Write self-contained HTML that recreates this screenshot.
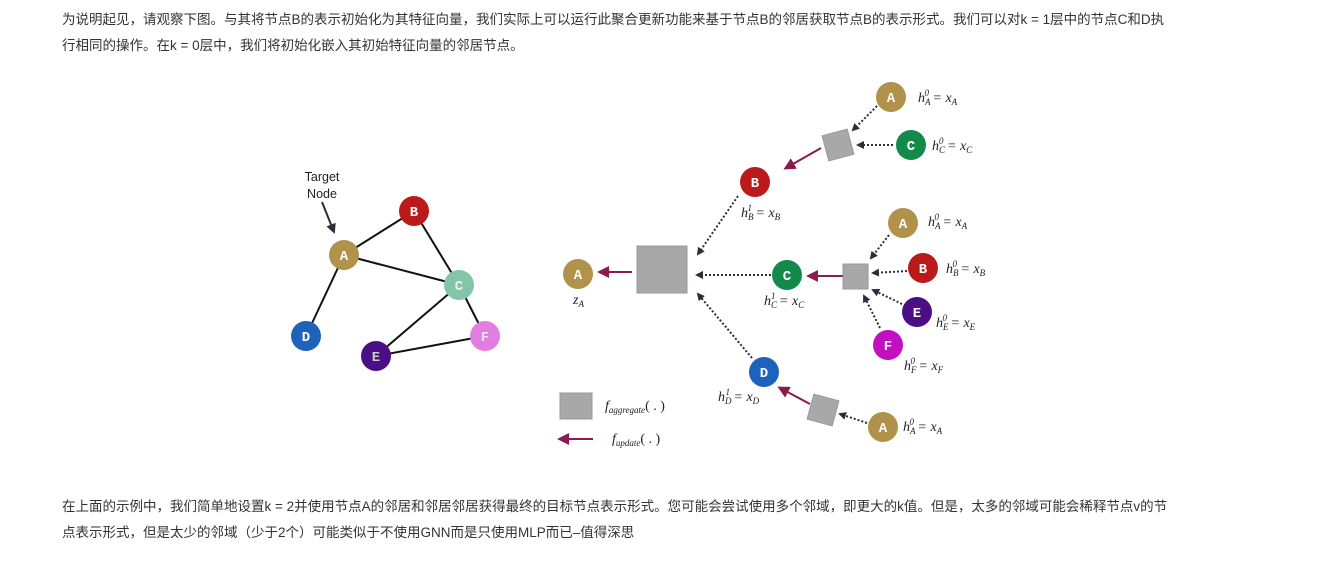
<!DOCTYPE html>
<html><head><meta charset="utf-8"><style>
body{margin:0;width:1341px;height:566px;background:#fff;position:relative;overflow:hidden;font-family:"Liberation Sans","Noto Sans CJK SC",sans-serif;color:#333}
.t{position:absolute;left:62px;font-size:13.5px;white-space:nowrap;line-height:26px}
svg{position:absolute;left:0;top:0}
</style></head><body>
<div class="t" style="top:7px">为说明起见，请观察下图。与其将节点B的表示初始化为其特征向量，我们实际上可以运行此聚合更新功能来基于节点B的邻居获取节点B的表示形式。我们可以对k = 1层中的节点C和D执<br>行相同的操作。在k = 0层中，我们将初始化嵌入其初始特征向量的邻居节点。</div>
<div class="t" style="top:494px">在上面的示例中，我们简单地设置k = 2并使用节点A的邻居和邻居邻居获得最终的目标节点表示形式。您可能会尝试使用多个邻域，即更大的k值。但是，太多的邻域可能会稀释节点v的节<br>点表示形式，但是太少的邻域（少于2个）可能类似于不使用GNN而是只使用MLP而已–值得深思</div>
<svg width="1341" height="566" viewBox="0 0 1341 566">
<defs>
<marker id="d" markerWidth="8" markerHeight="8" refX="6" refY="4" orient="auto" markerUnits="userSpaceOnUse"><path d="M0,0 L8,4 L0,8 z" fill="#2b2f3a"/></marker>
<marker id="m" markerWidth="12" markerHeight="12" refX="9" refY="6" orient="auto" markerUnits="userSpaceOnUse"><path d="M0,0 L12,6 L0,12 z" fill="#8b1a4f"/></marker>
<marker id="k" markerWidth="10" markerHeight="10" refX="8" refY="5" orient="auto" markerUnits="userSpaceOnUse"><path d="M0,0 L10,5 L0,10 z" fill="#2b2f3a"/></marker>
</defs>
<g stroke="#111" stroke-width="2">
<line x1="344" y1="255" x2="414" y2="211"/><line x1="344" y1="255" x2="459" y2="285"/><line x1="414" y1="211" x2="459" y2="285"/>
<line x1="344" y1="255" x2="306" y2="336"/><line x1="459" y1="285" x2="376" y2="356"/><line x1="459" y1="285" x2="485" y2="336"/><line x1="376" y1="356" x2="485" y2="336"/>
</g>
<line x1="322" y1="202" x2="334" y2="232" stroke="#2b2f3a" stroke-width="2" marker-end="url(#k)"/>
<text x="322" y="181" font-size="12.5" text-anchor="middle" fill="#222" font-family="Liberation Sans,sans-serif">Target</text>
<text x="322" y="198" font-size="12.5" text-anchor="middle" fill="#222" font-family="Liberation Sans,sans-serif">Node</text>
<g font-family="Liberation Mono,monospace" font-weight="bold" font-size="14" text-anchor="middle" fill="#fff">
<circle cx="344" cy="255" r="15" fill="#b0924a"/><text x="344" y="260">A</text>
<circle cx="414" cy="211" r="15" fill="#bb1a1a"/><text x="414" y="216">B</text>
<circle cx="459" cy="285" r="15" fill="#82c6a7"/><text x="459" y="290" fill="#e8f5ee">C</text>
<circle cx="306" cy="336" r="15" fill="#1d63bb"/><text x="306" y="341">D</text>
<circle cx="376" cy="356" r="15" fill="#4b0e85"/><text x="376" y="361" fill="#ccc">E</text>
<circle cx="485" cy="336" r="15" fill="#e07fe0"/><text x="485" y="341" fill="#f8e0f8">F</text>
</g>
<g stroke="#2b2f3a" stroke-width="2" stroke-dasharray="2,2" fill="none" marker-end="url(#d)">
<line x1="738" y1="196" x2="698" y2="254"/>
<line x1="771" y1="275" x2="697" y2="275"/>
<line x1="752" y1="358" x2="698" y2="294"/>
<line x1="877" y1="106" x2="853" y2="130"/>
<line x1="893" y1="145" x2="858" y2="145"/>
<line x1="889" y1="235" x2="871" y2="258"/>
<line x1="907" y1="271" x2="873" y2="273"/>
<line x1="902" y1="304" x2="873" y2="290"/>
<line x1="880" y1="328" x2="864" y2="296"/>
<line x1="867" y1="423" x2="840" y2="414"/>
</g>
<g stroke="#8b1a4f" stroke-width="2" marker-end="url(#m)">
<line x1="632" y1="272" x2="600" y2="272"/>
<line x1="821" y1="148" x2="786" y2="168"/>
<line x1="844" y1="276" x2="809" y2="276"/>
<line x1="810" y1="404" x2="780" y2="388"/>
<line x1="593" y1="439" x2="560" y2="439"/>
</g>
<rect x="637" y="246" width="50" height="47" fill="#a8a8a8" stroke="#999"/>
<rect x="825" y="132" width="26" height="26" fill="#a8a8a8" stroke="#999" transform="rotate(-15 838 145)"/>
<rect x="843" y="264" width="25" height="25" fill="#a8a8a8" stroke="#999"/>
<rect x="810" y="397" width="26" height="26" fill="#a8a8a8" stroke="#999" transform="rotate(15 823 410)"/>
<rect x="560" y="393" width="32" height="26" fill="#a8a8a8" stroke="#999"/>
<g font-family="Liberation Mono,monospace" font-weight="bold" font-size="14" text-anchor="middle" fill="#fff">
<circle cx="578" cy="274" r="15" fill="#b0924a"/><text x="578" y="279">A</text>
<circle cx="755" cy="182" r="15" fill="#bb1a1a"/><text x="755" y="187">B</text>
<circle cx="787" cy="275" r="15" fill="#138a4a"/><text x="787" y="280">C</text>
<circle cx="764" cy="372" r="15" fill="#1d63bb"/><text x="764" y="377">D</text>
<circle cx="891" cy="97" r="15" fill="#b0924a"/><text x="891" y="102">A</text>
<circle cx="911" cy="145" r="15" fill="#138a4a"/><text x="911" y="150">C</text>
<circle cx="903" cy="223" r="15" fill="#b0924a"/><text x="903" y="228">A</text>
<circle cx="923" cy="268" r="15" fill="#bb1a1a"/><text x="923" y="273">B</text>
<circle cx="917" cy="312" r="15" fill="#4b0e85"/><text x="917" y="317">E</text>
<circle cx="888" cy="345" r="15" fill="#c010c0"/><text x="888" y="350">F</text>
<circle cx="883" cy="427" r="15" fill="#b0924a"/><text x="883" y="432">A</text>
</g>
<g font-family="Liberation Serif,serif" font-style="italic" font-size="14" fill="#222">
<text x="573" y="304">z<tspan font-size="9" dy="3">A</tspan></text>
<text x="741" y="217">h<tspan font-size="9" dy="3">B</tspan><tspan font-size="9" dx="-6" dy="-9">1</tspan><tspan dy="6"> = x</tspan><tspan font-size="9" dy="3">B</tspan></text>
<text x="764" y="305">h<tspan font-size="9" dy="3">C</tspan><tspan font-size="9" dx="-6" dy="-9">1</tspan><tspan dy="6"> = x</tspan><tspan font-size="9" dy="3">C</tspan></text>
<text x="718" y="401">h<tspan font-size="9" dy="3">D</tspan><tspan font-size="9" dx="-6" dy="-9">1</tspan><tspan dy="6"> = x</tspan><tspan font-size="9" dy="3">D</tspan></text>
<text x="918" y="102">h<tspan font-size="9" dy="3">A</tspan><tspan font-size="9" dx="-6" dy="-9">0</tspan><tspan dy="6"> = x</tspan><tspan font-size="9" dy="3">A</tspan></text>
<text x="932" y="150">h<tspan font-size="9" dy="3">C</tspan><tspan font-size="9" dx="-6" dy="-9">0</tspan><tspan dy="6"> = x</tspan><tspan font-size="9" dy="3">C</tspan></text>
<text x="928" y="226">h<tspan font-size="9" dy="3">A</tspan><tspan font-size="9" dx="-6" dy="-9">0</tspan><tspan dy="6"> = x</tspan><tspan font-size="9" dy="3">A</tspan></text>
<text x="946" y="273">h<tspan font-size="9" dy="3">B</tspan><tspan font-size="9" dx="-6" dy="-9">0</tspan><tspan dy="6"> = x</tspan><tspan font-size="9" dy="3">B</tspan></text>
<text x="936" y="327">h<tspan font-size="9" dy="3">E</tspan><tspan font-size="9" dx="-6" dy="-9">0</tspan><tspan dy="6"> = x</tspan><tspan font-size="9" dy="3">E</tspan></text>
<text x="904" y="370">h<tspan font-size="9" dy="3">F</tspan><tspan font-size="9" dx="-6" dy="-9">0</tspan><tspan dy="6"> = x</tspan><tspan font-size="9" dy="3">F</tspan></text>
<text x="903" y="431">h<tspan font-size="9" dy="3">A</tspan><tspan font-size="9" dx="-6" dy="-9">0</tspan><tspan dy="6"> = x</tspan><tspan font-size="9" dy="3">A</tspan></text>
<text x="605" y="410">f<tspan font-size="9" dy="3">aggregate</tspan><tspan dy="-3" font-style="normal">( . )</tspan></text>
<text x="612" y="443">f<tspan font-size="9" dy="3">update</tspan><tspan dy="-3" font-style="normal">( . )</tspan></text>
</g>
</svg>
</body></html>
